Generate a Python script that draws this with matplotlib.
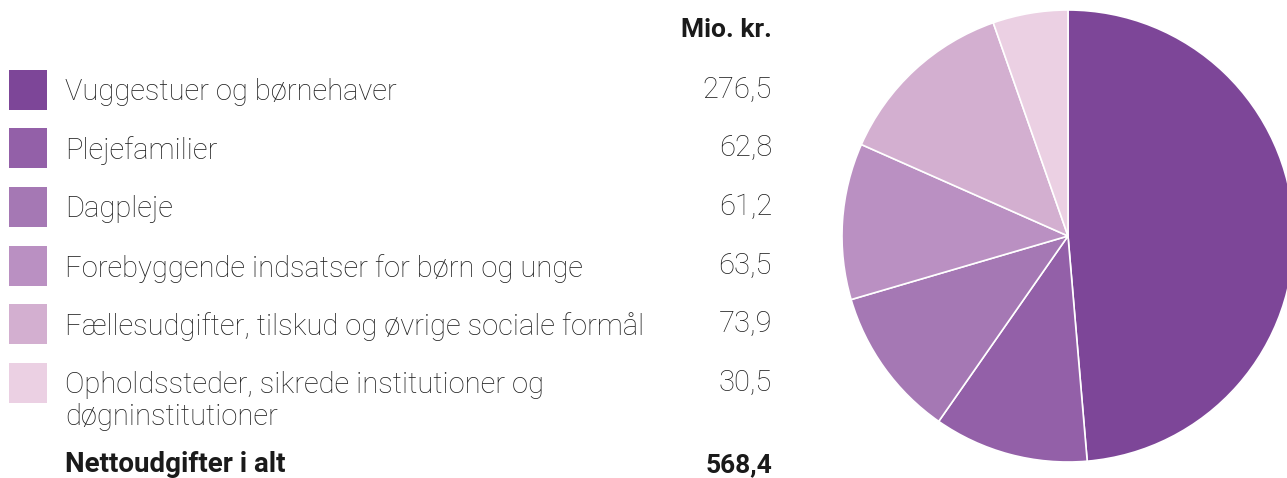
import matplotlib
matplotlib.use("Agg")
import matplotlib.pyplot as plt
from matplotlib.patches import Rectangle

categories = [
    "Vuggestuer og børnehaver",
    "Plejefamilier",
    "Dagpleje",
    "Forebyggende indsatser for børn og unge",
    "Fællesudgifter, tilskud og øvrige sociale formål",
    "Opholdssteder, sikrede institutioner og\ndøgninstitutioner",
]
values = [276.5, 62.8, 61.2, 63.5, 73.9, 30.5]
value_labels = ["276,5", "62,8", "61,2", "63,5", "73,9", "30,5"]
total_label = "Nettoudgifter i alt"
total_value = "568,4"
unit_label = "Mio. kr."
colors = ["#7D4698", "#9360A8", "#A578B4", "#BA90C2", "#D3AFD0", "#EBD0E3"]

W, H = 1287, 478
fig = plt.figure(figsize=(W / 100, H / 100), dpi=100)
fig.patch.set_facecolor("white")

ax = fig.add_axes([0, 0, 1, 1])
ax.set_xlim(0, W)
ax.set_ylim(H, 0)
ax.axis("off")

font = "Roboto"
fs = 21
txtc = "#1f1f1f"

ax.text(772, 30, unit_label, ha="right", va="center", fontsize=19,
        fontweight="bold", family=font, color="#1a1a1a")

row_y = [90, 148, 207, 266, 324, 383]
for i, (cat, vl, c) in enumerate(zip(categories, value_labels, colors)):
    y = row_y[i]
    ax.add_patch(Rectangle((9, y - 20), 38, 40, facecolor=c, edgecolor="none"))
    ax.text(65, y - 12, cat, ha="left", va="top", fontsize=fs, family=font,
            fontweight="light", color=txtc, linespacing=1.2)
    ax.text(772, y, vl, ha="right", va="center", fontsize=fs, family=font,
            fontweight="light", color=txtc)

ax.text(65, 465, total_label, ha="left", va="center", fontsize=20,
        fontweight="bold", family=font, color="#1a1a1a")
ax.text(772, 465, total_value, ha="right", va="center", fontsize=19,
        fontweight="bold", family=font, color="#1a1a1a")

cx, cy, r = 1068, 236, 226
pax = fig.add_axes([(cx - r) / W, (H - cy - r) / H, 2 * r / W, 2 * r / H])
pax.pie(values, colors=colors, startangle=90, counterclock=False,
        wedgeprops=dict(edgecolor="white", linewidth=1.2), radius=1)
pax.set_xlim(-1, 1)
pax.set_ylim(-1, 1)
pax.set_aspect("auto")
pax.axis("off")

fig.savefig("out.png", dpi=100, facecolor="white")
